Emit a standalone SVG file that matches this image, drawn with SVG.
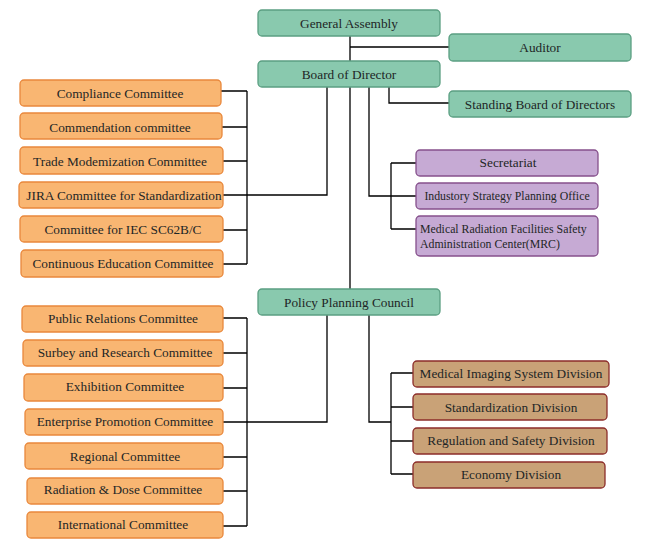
<svg xmlns="http://www.w3.org/2000/svg" width="650" height="550" viewBox="0 0 650 550">
<style>
rect{stroke-width:1.3}
.g{fill:#89c9ae;stroke:#5b9f82}
.o{fill:#f9b672;stroke:#e9883c}
.p{fill:#c6aad4;stroke:#86508c}
.b{fill:#c9a277;stroke:#8c2d2a}
text{font-family:"Liberation Serif","Times New Roman",serif;font-size:13.3px;fill:#1e2626;text-anchor:middle}
.s{font-size:11.8px}
.l{text-anchor:start}
#connectors path{fill:none;stroke:#000;stroke-width:1.3}
</style>
<rect width="650" height="550" fill="#fff"/>
<g id="connectors">
<path d="M350 36V289M350 47H449"/>
<path d="M389 87V103H449"/>
<path d="M327 87V195H223M247 91V264M221 91H247M222 127H247M223 161H247M223 230H247M223 264H247"/>
<path d="M369 87V196H416M391 163V229M391 163H416M391 229H416"/>
<path d="M327 315V422H223M247 318V526M223 318H247M223 353H247M223 388H247M223 457H247M223 491H247M223 526H247"/>
<path d="M369 315V422H391M391 373V474M391 373H413M391 407H413M391 441H413M391 474H413"/>
</g>
<g id="general-assembly"><rect class="g" x="258" y="10" width="182" height="26" rx="4"/><text x="349" y="28">General Assembly</text></g>
<g id="auditor"><rect class="g" x="449" y="34" width="182" height="27" rx="4"/><text x="540" y="52">Auditor</text></g>
<g id="board"><rect class="g" x="258" y="61" width="182" height="26" rx="4"/><text x="349" y="79">Board of Director</text></g>
<g id="standing"><rect class="g" x="449" y="91" width="182" height="26" rx="4"/><text x="540" y="109">Standing Board of Directors</text></g>
<g id="compliance"><rect class="o" x="20" y="80" width="201" height="26" rx="4"/><text x="120" y="98">Compliance Committee</text></g>
<g id="commendation"><rect class="o" x="20" y="113" width="202" height="26" rx="4"/><text x="120" y="132">Commendation committee</text></g>
<g id="trade"><rect class="o" x="20" y="147" width="203" height="27" rx="4"/><text x="120" y="166">Trade Modemization Committee</text></g>
<g id="jira"><rect class="o" x="19" y="182" width="204" height="26" rx="4"/><text x="124" y="200">JIRA Committee for Standardization</text></g>
<g id="iec"><rect class="o" x="20" y="216" width="203" height="26" rx="4"/><text x="123" y="234">Committee for IEC SC62B/C</text></g>
<g id="continuous"><rect class="o" x="21" y="250" width="202" height="27" rx="4"/><text x="123" y="268">Continuous Education Committee</text></g>
<g id="secretariat"><rect class="p" x="416" y="150" width="182" height="26" rx="4"/><text x="508" y="167">Secretariat</text></g>
<g id="industory"><rect class="p" x="416" y="183" width="182" height="26" rx="4"/><text class="s" x="507" y="200">Industory Strategy Planning Office</text></g>
<g id="mrc"><rect class="p" x="416" y="216" width="182" height="40" rx="4"/><text class="s l" x="420" y="233">Medical Radiation Facilities Safety</text><text class="s l" x="420" y="248">Administration Center(MRC)</text></g>
<g id="policy"><rect class="g" x="258" y="289" width="182" height="26" rx="4"/><text x="349" y="307">Policy Planning Council</text></g>
<g id="public"><rect class="o" x="22" y="306" width="201" height="26" rx="4"/><text x="123" y="323">Public Relations Committee</text></g>
<g id="surbey"><rect class="o" x="23" y="340" width="200" height="26" rx="4"/><text x="125" y="357">Surbey and Research Committee</text></g>
<g id="exhibition"><rect class="o" x="24" y="374" width="199" height="27" rx="4"/><text x="125" y="391">Exhibition Committee</text></g>
<g id="enterprise"><rect class="o" x="25" y="409" width="198" height="26" rx="4"/><text x="125" y="426">Enterprise Promotion Committee</text></g>
<g id="regional"><rect class="o" x="25" y="443" width="198" height="26" rx="4"/><text x="125" y="461">Regional Committee</text></g>
<g id="radiation"><rect class="o" x="27" y="478" width="196" height="26" rx="4"/><text x="123" y="494">Radiation &amp; Dose Committee</text></g>
<g id="international"><rect class="o" x="27" y="512" width="196" height="26" rx="4"/><text x="123" y="529">International Committee</text></g>
<g id="imaging"><rect class="b" x="413" y="361" width="196" height="26" rx="4"/><text x="511" y="378">Medical Imaging System Division</text></g>
<g id="standardization"><rect class="b" x="413" y="394" width="194" height="26" rx="4"/><text x="511" y="412">Standardization Division</text></g>
<g id="regulation"><rect class="b" x="413" y="428" width="194" height="26" rx="4"/><text x="511" y="445">Regulation and Safety Division</text></g>
<g id="economy"><rect class="b" x="413" y="462" width="192" height="26" rx="4"/><text x="511" y="479">Economy Division</text></g>
</svg>
